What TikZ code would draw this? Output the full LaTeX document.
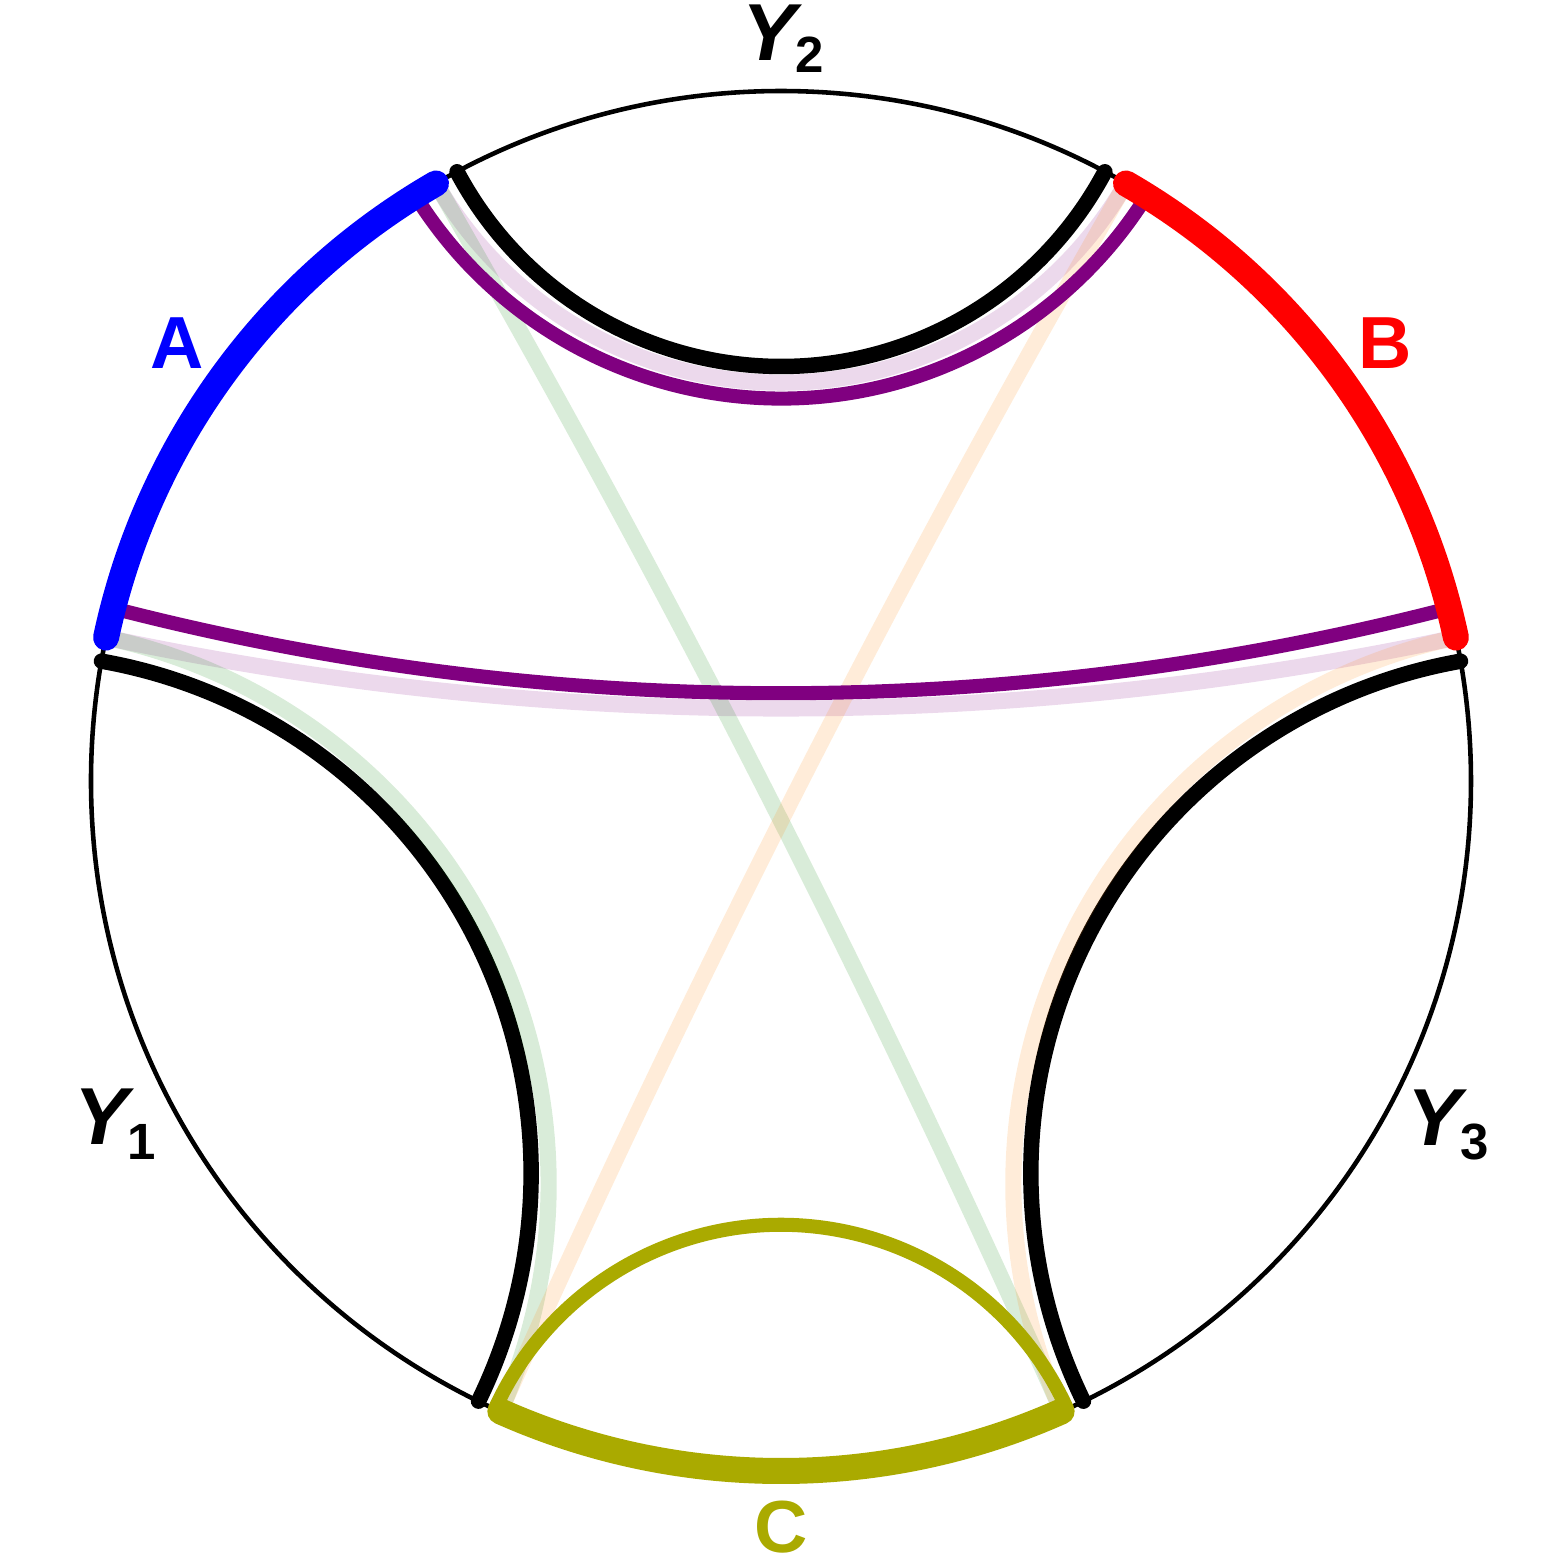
\documentclass[tikz,border=0pt]{standalone}
\usepackage{fontspec}
\setmainfont{Liberation Sans}
\usepackage{tikz}

\definecolor{olivec}{RGB}{170,170,0}
\definecolor{purplec}{RGB}{128,0,128}
\definecolor{greenc}{RGB}{0,128,0}
\definecolor{orangec}{RGB}{255,128,0}

\begin{document}
\begin{tikzpicture}[
	rim/.style={line width=1.3pt},
	geo/.style={line width=4.4pt, line cap=round},
	pale/.style={line width=4.6pt, draw opacity=0.15},
	band/.style={line width=7.4pt, line cap=round},
	lab/.style={font=\fontsize{21}{21}\selectfont\bfseries, inner sep=0pt},
	ylab/.style={font=\fontsize{23}{23}\selectfont\bfseries, inner sep=0pt}
	]
			\useasboundingbox (-7.81,-7.82) rectangle (7.82,7.81);
			% end points of the arcs
			\coordinate (a1) at (120:6.9);
			\coordinate (a2) at (168:6.9);
			\coordinate (b1) at (12:6.9);
			\coordinate (b2) at (60:6.9);
			\coordinate (c1) at (246:6.9);
			\coordinate (c2) at (294:6.9);
			\coordinate (y1t) at (170:6.9);
			\coordinate (y1b) at (244:6.9);
			\coordinate (y2l) at (118:6.9);
			\coordinate (y3t) at (10:6.9);
			\draw[rim] (0,0) circle(6.9);
			% geodesics of the Y arcs
			\draw[geo] (y2l) arc[start angle=208, end angle=332, radius={6.9*tan(28)}];
			\draw[geo] (y1b) arc[start angle=334, end angle=440, radius={6.9*tan(37)}];
			\draw[geo] (y3t) arc[start angle=100, end angle=206, radius={6.9*tan(37)}];
			% pale geodesics
			\draw[pale, purplec] (a1) arc[start angle=210, end angle=330, radius={6.9*tan(30)}];
			\draw[pale, purplec] (a2) arc[start angle=258, end angle=282, radius={6.9*tan(78)}];
			\draw[pale, greenc] (c1) arc[start angle=336, end angle=438, radius={6.9*tan(39)}];
			\draw[pale, greenc] (c2) arc[start angle=384, end angle=390, radius={6.9*tan(87)}];
			\draw[pale, orangec] (b2) arc[start angle=150, end angle=156, radius={6.9*tan(87)}];
			\draw[pale, orangec] (b1) arc[start angle=102, end angle=204, radius={6.9*tan(39)}];
			% purple and olive geodesics
			\draw[line width=4pt, purplec] (122:6.9) arc[start angle=212, end angle=328, radius={6.9*tan(32)}];
			\draw[line width=4pt, purplec] (165.5:6.9) arc[start angle=255.5, end angle=284.5, radius={6.9*tan(75.5)}];
			\draw[line width=4pt, olivec] (294.5:6.9) arc[start angle=384.5, end angle=515.5, radius={6.9*tan(24.5)}];
			% A, B, C
			\draw[band, blue] (a1) arc[start angle=120, end angle=168, radius=6.9];
			\draw[band, red] (b1) arc[start angle=12, end angle=60, radius=6.9];
			\draw[band, olivec] (c1) arc[start angle=246, end angle=294, radius=6.9];
			\node[lab, blue] (la) at (-6.04,4.38) {A};
			\node[lab, red] (lb) at (6.04,4.38) {B};
			\node[lab, olivec] (lc) at (0,-7.46) {C};
			\node[ylab] (ly2) at (0.02,7.42) {\textit{Y}\kern-2pt\raisebox{-3.4pt}{\fontsize{14.5}{14.5}\selectfont 2}};
			\node[ylab] (ly1) at (-6.66,-3.43) {\textit{Y}\kern-2pt\raisebox{-4.2pt}{\fontsize{14.5}{14.5}\selectfont 1}};
			\node[ylab] (ly3) at (6.67,-3.44) {\textit{Y}\kern-2pt\raisebox{-4.2pt}{\fontsize{14.5}{14.5}\selectfont 3}};
		\end{tikzpicture}
\end{document}
